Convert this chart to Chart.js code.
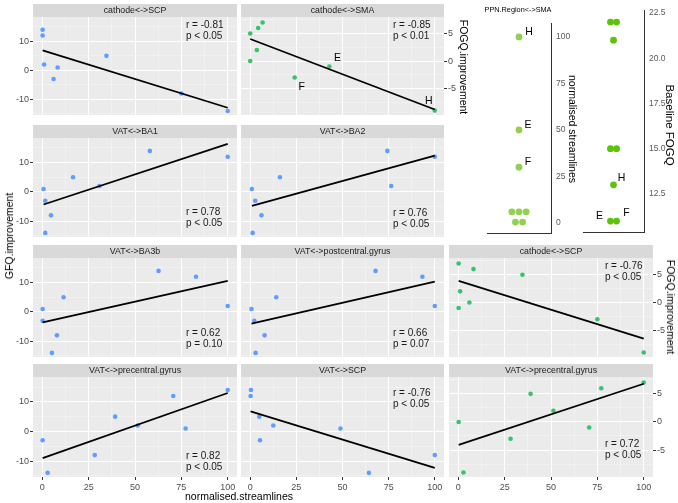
<!DOCTYPE html>
<html>
<head>
<meta charset="utf-8">
<script src="https://cdn.jsdelivr.net/npm/chart.js@4.4.0/dist/chart.umd.min.js"></script>
<style>
body { margin: 0; background: #fff; }
#stage { position: relative; width: 678px; height: 503px; overflow: hidden; font-family: "Liberation Sans", Arial, sans-serif; }
#stage canvas { position: absolute; left: 0; top: 0; }
.lbl { position: absolute; white-space: nowrap; color: #000; transform: translate(-50%, -50%); }
</style>
</head>
<body>
<div id="stage"></div>
<script>
// ticks / grid
const xMajor = [0, 25, 50, 75, 100];
const xMinor = [12.5, 37.5, 62.5, 87.5];
const gfqMajor = [-10, 0, 10];
const gfqMinor = [-15, -5, 5, 15];
const fogqMajor = [-5, 0, 5];
const fogqMinor = [-7.5, -2.5, 2.5, 7.5];

// GFQ.improvement panels (x = normalised.streamlines)
const cathodeScpGfqX = [0.2, 0.2, 1, 8.3, 6.1, 34.6, 75, 100];
const cathodeScpGfqY = [14, 12, 2, 1, -3, 5, -8, -14];
const cathodeScpGfqFit = [6.9, -12.9];

const vatBa1X = [0.7, 1.6, 4.7, 1.6, 16.6, 30.8, 58, 100];
const vatBa1Y = [1, -3, -8, -14, 5, 2, 14, 12];
const vatBa1Fit = [-4.3, 16.4];

const vatBa2X = [0.9, 2.7, 6.1, 1.3, 16.1, 74.3, 76.4, 100];
const vatBa2Y = [1, -3, -8, -14, 5, 14, 2, 12];
const vatBa2Fit = [-4.8, 12.4];

const vatBa3bX = [0.2, 0.2, 7.9, 5.2, 11.5, 62.7, 82.9, 100];
const vatBa3bY = [1, -3, -8, -14, 5, 14, 12, 2];
const vatBa3bFit = [-3.6, 10.6];

const vatPostX = [0.7, 2.2, 7.8, 2.9, 14.1, 67.9, 93.3, 100];
const vatPostY = [1, -3, -8, -14, 5, 14, 12, 2];
const vatPostFit = [-4, 10.3];

const vatPreGfqX = [0.2, 2.9, 28.3, 39.3, 51.5, 70.6, 77.3, 100];
const vatPreGfqY = [-3, -14, -8, 5, 2, 12, 1, 14];
const vatPreGfqFit = [-9, 13];

const vatScpX = [0.4, 0.2, 4.9, 12.5, 5.3, 48.9, 64.3, 100];
const vatScpY = [14, 12, 5, 2, -3, 1, -14, -8];
const vatScpFit = [6.8, -12.3];

// FOGQ.improvement panels
const cathodeSmaX = [6.7, 4.3, 0, 3.6, 0, 42.9, 24.1, 100];
const cathodeSmaY = [7, 6, 5, 2, 0, -1, -3, -9];
const cathodeSmaFit = [4, -8.8];
const cathodeSmaTags = ['', '', '', '', '', 'E', 'F', 'H'];

const cathodeScpFogqX = [0.2, 8.2, 34.6, 1, 6, 0.2, 75, 100];
const cathodeScpFogqY = [7, 6, 5, 2, 0, -1, -3, -9];
const cathodeScpFogqFit = [3.9, -6.5];

const vatPreFogqX = [0.2, 2.8, 28.2, 39, 51.3, 70.6, 77.1, 100];
const vatPreFogqY = [0, -9, -3, 5, 2, -1, 6, 7];
const vatPreFogqFit = [-4.1, 6.8];

// PPN.Region<->SMA dot strips
const ppnStreamlines = [100, 50, 30, 6, 6, 6, 0.5, 0.5];
const ppnStreamDodge = [0, 0, 0, -1, 0, 1, -0.5, 0.5];
const ppnStreamTags = ['H', 'E', 'F', '', '', '', '', ''];
const ppnStreamTicks = [0, 25, 50, 75, 100];

const ppnBaseline = [22, 22, 21, 15, 15, 13, 11, 11];
const ppnBaseDodge = [-0.4, 0.4, 0, -0.4, 0.4, 0, -0.4, 0.4];
const ppnBaseTags = ['', '', '', '', '', 'H', 'E', 'F'];
const ppnBaseTicks = [12.5, 15, 17.5, 20, 22.5];

const cols = [[33, 237], [241, 444], [449, 653]];
const rows = [[17, 115], [138, 237], [258, 357], [377, 477]];
const FONT = '"Liberation Sans", Arial, sans-serif';

const panels = [
  { row: 0, col: 0, title: 'cathode<->SCP', kind: 'gfq', x: cathodeScpGfqX, y: cathodeScpGfqY, fit: cathodeScpGfqFit, stat: ['r = -0.81', 'p < 0.05'], statY: 8 },
  { row: 0, col: 1, title: 'cathode<->SMA', kind: 'fogq', x: cathodeSmaX, y: cathodeSmaY, fit: cathodeSmaFit, stat: ['r = -0.85', 'p < 0.01'], statY: 8, tags: cathodeSmaTags,
    tagOff: { E: [8, -8], F: [7, 10], H: [-6, -9] } },
  { row: 1, col: 0, title: 'VAT<->BA1', kind: 'gfq', x: vatBa1X, y: vatBa1Y, fit: vatBa1Fit, stat: ['r = 0.78', 'p < 0.05'], statY: 74 },
  { row: 1, col: 1, title: 'VAT<->BA2', kind: 'gfq', x: vatBa2X, y: vatBa2Y, fit: vatBa2Fit, stat: ['r = 0.76', 'p < 0.05'], statY: 75 },
  { row: 2, col: 0, title: 'VAT<->BA3b', kind: 'gfq', x: vatBa3bX, y: vatBa3bY, fit: vatBa3bFit, stat: ['r = 0.62', 'p = 0.10'], statY: 75 },
  { row: 2, col: 1, title: 'VAT<->postcentral.gyrus', kind: 'gfq', x: vatPostX, y: vatPostY, fit: vatPostFit, stat: ['r = 0.66', 'p = 0.07'], statY: 75 },
  { row: 2, col: 2, title: 'cathode<->SCP', kind: 'fogq', x: cathodeScpFogqX, y: cathodeScpFogqY, fit: cathodeScpFogqFit, stat: ['r = -0.76', 'p < 0.05'], statY: 8 },
  { row: 3, col: 0, title: 'VAT<->precentral.gyrus', kind: 'gfq', x: vatPreGfqX, y: vatPreGfqY, fit: vatPreGfqFit, stat: ['r = 0.82', 'p < 0.05'], statY: 79 },
  { row: 3, col: 1, title: 'VAT<->SCP', kind: 'gfq', x: vatScpX, y: vatScpY, fit: vatScpFit, stat: ['r = -0.76', 'p < 0.05'], statY: 16 },
  { row: 3, col: 2, title: 'VAT<->precentral.gyrus', kind: 'fogq', x: vatPreFogqX, y: vatPreFogqY, fit: vatPreFogqFit, stat: ['r = 0.72', 'p < 0.05'], statY: 67 }
];

const panelDeco = {
  id: 'panelDeco',
  beforeDraw(chart, args, o) {
    const a = chart.chartArea, ctx = chart.ctx;
    ctx.save();
    if (o.bg) {
      ctx.fillStyle = o.bg;
      ctx.fillRect(a.left, a.top, a.right - a.left, a.bottom - a.top);
    }
    if (o.strip) {
      ctx.fillStyle = '#D9D9D9';
      ctx.fillRect(a.left, a.top - 13, a.right - a.left, 13);
      ctx.fillStyle = '#1A1A1A';
      ctx.font = '8.8px ' + FONT;
      ctx.textAlign = 'center';
      ctx.textBaseline = 'middle';
      ctx.fillText(o.strip, (a.left + a.right) / 2, a.top - 6.5);
    }
    ctx.restore();
  },
  afterDatasetsDraw(chart, args, o) {
    const a = chart.chartArea, ctx = chart.ctx;
    ctx.save();
    ctx.textBaseline = 'middle';
    if (o.stat) {
      ctx.fillStyle = '#1A1A1A';
      ctx.font = '10px ' + FONT;
      ctx.textAlign = 'left';
      o.stat.forEach((s, i) => ctx.fillText(s, a.right - o.statDx, a.top + o.statY + i * 11.5));
    }
    if (o.tags) {
      const meta = chart.getDatasetMeta(o.tagSet);
      ctx.fillStyle = '#000';
      ctx.font = '10.5px ' + FONT;
      ctx.textAlign = 'center';
      o.tags.forEach((t, i) => {
        if (!t) return;
        const el = meta.data[i], d = o.tagOff[t];
        ctx.fillText(t, el.x + d[0], el.y + d[1]);
      });
    }
    ctx.restore();
  }
};
Chart.register(panelDeco);
Chart.defaults.font.family = FONT;

const stage = document.getElementById('stage');
function newCanvas() {
  const cv = document.createElement('canvas');
  cv.width = 678; cv.height = 503;
  stage.appendChild(cv);
  return cv;
}

function isMajor(major, c) {
  return !!(c.tick && major.includes(c.tick.value));
}

function gridScale(pos, min, max, major, minor, show, size) {
  const all = major.concat(minor);
  return {
    type: 'linear', position: pos, min: min, max: max,
    afterBuildTicks: s => { s.ticks = all.map(v => ({ value: v })); },
    afterFit: s => { if (pos === 'bottom') s.height = size; else s.width = size; },
    ticks: {
      display: show, autoSkip: false, maxRotation: 0, color: '#4D4D4D',
      font: { size: 9 }, padding: pos === 'bottom' ? 2 : 1,
      callback: v => major.includes(v) ? String(v) : ''
    },
    grid: {
      color: c => isMajor(major, c) ? '#FFFFFF' : '#F4F4F4',
      lineWidth: c => isMajor(major, c) ? 1 : 0.7,
      drawTicks: show, tickLength: 3,
      tickColor: c => isMajor(major, c) ? '#333333' : 'rgba(0,0,0,0)'
    },
    border: { display: false }
  };
}

panels.forEach(p => {
  const [l, r] = cols[p.col], [t, b] = rows[p.row];
  const fogq = p.kind === 'fogq';
  const colour = fogq ? '#35C46A' : '#619CFF';
  const showX = p.row === 3;
  const xH = showX ? 14 : 0;
  let yW, padL, padR;
  if (fogq) { yW = 22; padL = l; padR = 678 - r - yW; }
  else { yW = p.col === 0 ? l : 0; padL = l - yW; padR = 678 - r; }
  const xLo = Math.min(...p.x), xHi = Math.max(...p.x);

  new Chart(newCanvas(), {
    data: {
      datasets: [
        { type: 'line', data: [{ x: xLo, y: p.fit[0] }, { x: xHi, y: p.fit[1] }],
          borderColor: '#000', borderWidth: 1.8, pointRadius: 0, fill: false },
        { type: 'scatter', data: p.x.map((v, i) => ({ x: v, y: p.y[i] })),
          backgroundColor: colour, borderWidth: 0, pointRadius: 2.3 }
      ]
    },
    options: {
      responsive: false, animation: false, events: [],
      layout: { padding: { left: padL, right: padR, top: t, bottom: 503 - b - xH } },
      scales: {
        x: gridScale('bottom', -5, 105, xMajor, xMinor, showX, xH),
        y: fogq ? gridScale('right', -9.8, 8.0, fogqMajor, fogqMinor, true, yW)
                : gridScale('left', -15.4, 18.4, gfqMajor, gfqMinor, p.col === 0, yW)
      },
      plugins: {
        legend: { display: false }, tooltip: { enabled: false },
        panelDeco: { bg: '#EBEBEB', strip: p.title, stat: p.stat, statY: p.statY,
          statDx: p.col === 2 ? 48 : 51, tags: p.tags, tagSet: 1, tagOff: p.tagOff }
      }
    }
  });
});

function stripChart(area, vals, dodge, tags, tagOff, colour, yMin, yMax, ticks, fmt, half) {
  const [l, r, t, b] = area;
  const yW = 30;
  new Chart(newCanvas(), {
    type: 'scatter',
    data: { datasets: [{ data: vals.map((v, i) => ({ x: dodge[i], y: v })),
      backgroundColor: colour, borderWidth: 0, pointRadius: 3.4 }] },
    options: {
      responsive: false, animation: false, events: [],
      layout: { padding: { left: l, right: 678 - r - yW, top: t, bottom: 503 - b } },
      scales: {
        x: { type: 'linear', min: -half, max: half, afterFit: s => { s.height = 0; },
          ticks: { display: false }, grid: { display: false },
          border: { display: true, color: '#333333', width: 1 } },
        y: { type: 'linear', position: 'right', min: yMin, max: yMax,
          afterBuildTicks: s => { s.ticks = ticks.map(v => ({ value: v })); },
          afterFit: s => { s.width = yW; },
          ticks: { color: '#595959', font: { size: 8.5 }, padding: 5, autoSkip: false, callback: fmt },
          grid: { display: false, drawTicks: false },
          border: { display: true, color: '#333333', width: 1 } }
      },
      plugins: {
        legend: { display: false }, tooltip: { enabled: false },
        panelDeco: { tags: tags, tagSet: 0, tagOff: tagOff }
      }
    }
  });
}

stripChart([487, 551, 23, 233], ppnStreamlines, ppnStreamDodge, ppnStreamTags,
  { H: [10, -5], E: [9, -5], F: [9, -5] }, '#92D050', -5.4, 107.5, ppnStreamTicks, v => String(v), 4.5);
stripChart([583, 644, 5, 233], ppnBaseline, ppnBaseDodge, ppnBaseTags,
  { H: [8, -7], E: [-11, -5], F: [10, -8] }, '#5CC20A', 10.34, 22.66, ppnBaseTicks, v => v.toFixed(1), 4);

function label(text, cx, cy, size, rot) {
  const d = document.createElement('div');
  d.className = 'lbl';
  d.textContent = text;
  d.style.left = cx + 'px';
  d.style.top = cy + 'px';
  d.style.fontSize = size + 'px';
  if (rot) d.style.transform = 'translate(-50%, -50%) rotate(' + rot + 'deg)';
  stage.appendChild(d);
}

label('GFQ.improvement', 9, 236, 10.5, -90);
label('normalised.streamlines', 239, 496, 10.5, 0);
label('FOGQ.improvement', 464, 67, 10.5, 90);
label('FOGQ.improvement', 671, 307, 10.5, 90);
label('normalised streamlines', 573, 129, 10.5, 90);
label('Baseline FOGQ', 670, 125, 11.5, 90);
label('PPN.Region<->SMA', 518, 9, 7.3, 0);
</script>
</body>
</html>
